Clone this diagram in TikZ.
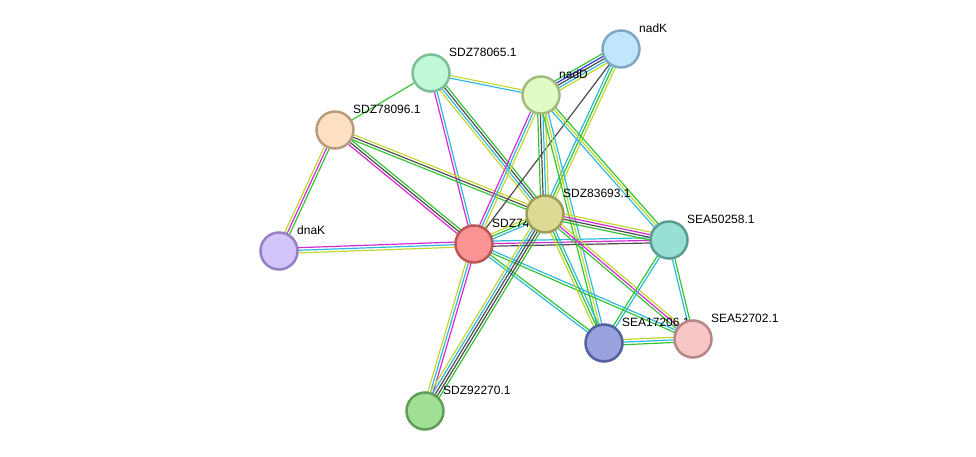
\documentclass[tikz,border=0pt]{standalone}
\usepackage{fontspec}
\setmainfont{Liberation Sans}
\usetikzlibrary{calc,backgrounds}

\definecolor{tmine}{HTML}{C3D62F}
\definecolor{coexp}{HTML}{4D4D4D}
\definecolor{exper}{HTML}{D42AD4}
\definecolor{dbase}{HTML}{2EB8DE}
\definecolor{neigh}{HTML}{33C433}
\definecolor{cooc}{HTML}{3333E6}

\definecolor{nadkFill}{HTML}{BFE6FA}    \definecolor{nadkLine}{HTML}{7FA7C2}
\definecolor{naddFill}{HTML}{E0FCC4}    \definecolor{naddLine}{HTML}{A2BC7C}
\definecolor{s78065Fill}{HTML}{C0F8D8}  \definecolor{s78065Line}{HTML}{7DBE97}
\definecolor{s78096Fill}{HTML}{FDDFC2}  \definecolor{s78096Line}{HTML}{B89C7E}
\definecolor{dnakFill}{HTML}{D3C4FA}    \definecolor{dnakLine}{HTML}{9580C4}
\definecolor{s74Fill}{HTML}{FA9494}     \definecolor{s74Line}{HTML}{BD5555}
\definecolor{s83693Fill}{HTML}{DCDA94}  \definecolor{s83693Line}{HTML}{9E9C5A}
\definecolor{e50258Fill}{HTML}{98E0D5}  \definecolor{e50258Line}{HTML}{5A9C92}
\definecolor{e17206Fill}{HTML}{98A3DE}  \definecolor{e17206Line}{HTML}{53609E}
\definecolor{e52702Fill}{HTML}{F6C7C6}  \definecolor{e52702Line}{HTML}{B68686}
\definecolor{s92270Fill}{HTML}{A0DF95}  \definecolor{s92270Line}{HTML}{609E58}

\newcommand{\link}[3]{%
  \foreach \c [count=\k] in {#3} {\xdef\nlinks{\k}}%
  \foreach \c [count=\k] in {#3} {%
    \pgfmathsetmacro{\off}{(\k-(\nlinks+1)/2)*2.6}%
    \draw[\c, line width=1.2pt] ($(#1.center)!\off pt!90:(#2.center)$) -- ($(#2.center)!\off pt!-90:(#1.center)$);
  }}

\tikzset{
  prot/.style={circle, minimum size=37pt, inner sep=0pt, line width=2.5pt,
    fill=#1Fill, draw=#1Line, label distance=4pt},
  lbl/.style={font=\fontsize{12}{14}\selectfont, inner sep=1pt, xshift=3pt, yshift=1pt}
}

\begin{document}
\begin{tikzpicture}[x=1pt,y=-1pt]
	\useasboundingbox (0,0) rectangle (976,457);
	\node[prot=nadk, label={[lbl]45:nadK}] (nad_k) at (621,49) {};
	\node[prot=nadd, label={[lbl]45:nadD}] (nad_d) at (541,95) {};
	\node[prot=s78065, label={[lbl]45:SDZ78065.1}] (sdz78065) at (431,73) {};
	\node[prot=s78096, label={[lbl]45:SDZ78096.1}] (sdz78096) at (335,130) {};
	\node[prot=dnak, label={[lbl]45:dnaK}] (dna_k) at (279,251) {};
	\node[prot=s74, label={[lbl]45:SDZ74}] (sdz74) at (474,244) {};
	\node[prot=s83693, label={[lbl]45:SDZ83693.1}] (sdz83693) at (545,214) {};
	\node[prot=e50258, label={[lbl]45:SEA50258.1}] (sea50258) at (669,240) {};
	\node[prot=e17206, label={[lbl]45:SEA17206.1}] (sea17206) at (604,343) {};
	\node[prot=e52702, label={[lbl]45:SEA52702.1}] (sea52702) at (693,339) {};
	\node[prot=s92270, label={[lbl]45:SDZ92270.1}] (sdz92270) at (425,411) {};

	\begin{pgfonlayer}{background}
	\link{sdz78065}{sdz78096}{neigh}
	\link{sdz78065}{nad_d}{dbase,tmine}
	\link{sdz78065}{sdz74}{exper,dbase}
	\link{sdz78065}{sdz83693}{tmine,dbase,coexp,neigh}
	\link{sdz78096}{dna_k}{tmine,exper,neigh}
	\link{sdz78096}{sdz74}{exper,coexp,neigh}
	\link{sdz78096}{sdz83693}{neigh,coexp,tmine}
	\link{dna_k}{sdz74}{tmine,dbase,exper}
	\link{nad_k}{nad_d}{neigh,cooc,coexp,dbase,tmine}
	\link{nad_k}{sdz74}{coexp}
	\link{nad_k}{sdz83693}{dbase,neigh,tmine}
	\link{nad_d}{sdz74}{exper,dbase,tmine}
	\link{nad_d}{sdz83693}{neigh,coexp,dbase,tmine}
	\link{nad_d}{sea50258}{dbase,tmine,neigh}
	\link{nad_d}{sea17206}{neigh,tmine,dbase}
	\link{sdz74}{sdz83693}{dbase,neigh,tmine}
	\link{sdz74}{sea50258}{coexp,exper,dbase}
	\link{sdz74}{sea17206}{dbase,neigh}
	\link{sdz74}{sea52702}{neigh,dbase}
	\link{sdz74}{sdz92270}{tmine,dbase,exper}
	\link{sdz83693}{sea50258}{neigh,coexp,exper,tmine}
	\link{sdz83693}{sea52702}{neigh,exper,tmine}
	\link{sdz83693}{sea17206}{tmine,neigh,dbase}
	\link{sdz83693}{sdz92270}{tmine,dbase,coexp,coexp,neigh}
	\link{sea50258}{sea17206}{neigh,dbase}
	\link{sea50258}{sea52702}{dbase,neigh}
	\link{sea17206}{sea52702}{neigh,dbase,tmine}
	\end{pgfonlayer}
\end{tikzpicture}
\end{document}
